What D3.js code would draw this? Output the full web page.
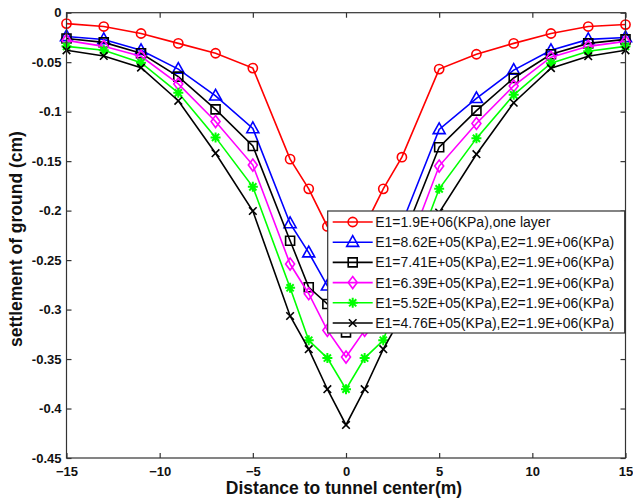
<!DOCTYPE html>
<html><head><meta charset="utf-8">
<script src="https://cdn.jsdelivr.net/npm/d3@7"></script>
<style>
html,body{margin:0;padding:0;background:#fff;}
text{font-family:Arial,"Liberation Sans",sans-serif;}
</style></head>
<body><svg id="c" width="633" height="502"></svg>
<script>
const xValues = [-15,-13,-11,-9,-7,-5,-3,-2,-1,0,1,2,3,5,7,9,11,13,15];
const seriesRed   = [-0.011,-0.014,-0.021,-0.031,-0.041,-0.056,-0.148,-0.178,-0.216,-0.238,-0.216,-0.178,-0.146,-0.057,-0.042,-0.031,-0.021,-0.014,-0.012];
const seriesBlue  = [-0.024,-0.027,-0.038,-0.057,-0.084,-0.117,-0.213,-0.2425,-0.276,-0.300,-0.276,-0.2425,-0.213,-0.118,-0.0865,-0.058,-0.038,-0.027,-0.025];
const seriesSquare= [-0.026,-0.030,-0.041,-0.0646,-0.0977,-0.1347,-0.2304,-0.2775,-0.2944,-0.323,-0.2944,-0.2775,-0.2304,-0.136,-0.099,-0.066,-0.042,-0.031,-0.027];
const seriesPink  = [-0.028,-0.034,-0.044,-0.072,-0.110,-0.154,-0.254,-0.284,-0.321,-0.348,-0.321,-0.284,-0.254,-0.155,-0.112,-0.074,-0.045,-0.034,-0.029];
const seriesGreen = [-0.034,-0.038,-0.0505,-0.081,-0.126,-0.176,-0.278,-0.331,-0.349,-0.3805,-0.349,-0.331,-0.278,-0.178,-0.127,-0.083,-0.051,-0.039,-0.034];
const seriesCross = [-0.038,-0.0437,-0.0555,-0.089,-0.142,-0.2004,-0.3065,-0.340,-0.3805,-0.4166,-0.3805,-0.340,-0.3065,-0.202,-0.143,-0.091,-0.056,-0.044,-0.038];
const legendLabels = [
  "E1=1.9E+06(KPa),one layer",
  "E1=8.62E+05(KPa),E2=1.9E+06(KPa)",
  "E1=7.41E+05(KPa),E2=1.9E+06(KPa)",
  "E1=6.39E+05(KPa),E2=1.9E+06(KPa)",
  "E1=5.52E+05(KPa),E2=1.9E+06(KPa)",
  "E1=4.76E+05(KPa),E2=1.9E+06(KPa)"
];
const xTicks = [-15,-10,-5,0,5,10,15];
const yTicks = [0,-0.05,-0.1,-0.15,-0.2,-0.25,-0.3,-0.35,-0.4,-0.45];
const yTickLabels = ["0","-0.05","-0.1","-0.15","-0.2","-0.25","-0.3","-0.35","-0.4","-0.45"];
const xTitle = "Distance to tunnel center(m)";
const yTitle = "settlement of ground (cm)";

const series = [
  {vals: seriesRed, color:"#ff0000", marker:"circle"},
  {vals: seriesBlue, color:"#0000ff", marker:"triangle"},
  {vals: seriesSquare, color:"#000000", marker:"square"},
  {vals: seriesPink, color:"#ff00ff", marker:"diamond"},
  {vals: seriesGreen, color:"#00ff00", marker:"star"},
  {vals: seriesCross, color:"#000000", marker:"cross"}
];

const L = 66.5, R = 625.5, T = 12.7, B = 458;
const x = d3.scaleLinear().domain([-15,15]).range([L,R]);
const y = d3.scaleLinear().domain([-0.45,0]).range([B,T]);
const svg = d3.select("#c");

function markerPath(type){
  switch(type){
    case "circle": return d3.symbol().type(d3.symbolCircle).size(Math.PI*4.6*4.6)();
    case "triangle": return "M0,-6.5L6,4.2L-6,4.2Z";
    case "square": return "M-4.5,-4.5H4.5V4.5H-4.5Z";
    case "diamond": return "M0,-6L4.5,0L0,6L-4.5,0Z";
    case "star": return "M-5,0H5M0,-5V5M-3.6,-3.6L3.6,3.6M-3.6,3.6L3.6,-3.6";
    case "cross": return "M-3.8,-3.8L3.8,3.8M-3.8,3.8L3.8,-3.8";
  }
}

const plot = svg.append("g");
const line = d3.line().x(d=>x(d[0])).y(d=>y(d[1]));
series.forEach(s=>{
  const pts = xValues.map((xv,i)=>[xv, s.vals[i]]);
  plot.append("path").attr("d", line(pts)).attr("fill","none")
    .attr("stroke", s.color).attr("stroke-width",1.6);
  plot.selectAll(null).data(pts).enter().append("path")
    .attr("transform", d=>`translate(${x(d[0])},${y(d[1])})`)
    .attr("d", markerPath(s.marker))
    .attr("fill", s.marker==="star" ? s.color : "none")
    .attr("stroke", s.color).attr("stroke-width", s.marker==="star"?2:1.6);
});

// frame
svg.append("rect").attr("x",L).attr("y",T).attr("width",R-L).attr("height",B-T)
  .attr("fill","none").attr("stroke","#333").attr("stroke-width",1.2);

// axes with inside ticks
const axB = svg.append("g").attr("transform",`translate(0,${B})`)
  .call(d3.axisBottom(x).tickValues(xTicks).tickSizeInner(-5).tickSizeOuter(0).tickPadding(9));
const axT = svg.append("g").attr("transform",`translate(0,${T})`)
  .call(d3.axisTop(x).tickValues(xTicks).tickSizeInner(-5).tickSizeOuter(0).tickFormat(""));
const axL = svg.append("g").attr("transform",`translate(${L},0)`)
  .call(d3.axisLeft(y).tickValues(yTicks).tickSizeInner(-5).tickSizeOuter(0).tickPadding(5)
    .tickFormat((d,i)=>yTickLabels[i]));
const axR = svg.append("g").attr("transform",`translate(${R},0)`)
  .call(d3.axisRight(y).tickValues(yTicks).tickSizeInner(-5).tickSizeOuter(0).tickFormat(""));
[axB,axT,axL,axR].forEach(a=>{
  a.select(".domain").remove();
  a.selectAll(".tick line").attr("stroke","#333").attr("stroke-width",1.2);
  a.selectAll("text").attr("font-size",13).attr("font-weight","bold").attr("fill","#111")
    .attr("font-family","Arial, 'Liberation Sans', sans-serif");
});

// titles
svg.append("text").attr("x",344).attr("y",494).attr("text-anchor","middle")
  .attr("font-size",17.5).attr("font-weight","bold").attr("fill","#111").text(xTitle);
svg.append("text").attr("transform","translate(22,239) rotate(-90)").attr("text-anchor","middle")
  .attr("font-size",17.5).attr("font-weight","bold").attr("fill","#111").text(yTitle);

// legend
const lg = svg.append("g");
const lx0 = 327.7, ly0 = 211, lw = 297, lh = 122;
lg.append("rect").attr("x",lx0).attr("y",ly0).attr("width",lw).attr("height",lh)
  .attr("fill","#fff").attr("stroke","#333").attr("stroke-width",1.2);
series.forEach((s,i)=>{
  const yy = ly0 + 11 + i*20.2;
  lg.append("line").attr("x1",lx0+5).attr("x2",lx0+45).attr("y1",yy).attr("y2",yy)
    .attr("stroke",s.color).attr("stroke-width",1.6);
  lg.append("path").attr("transform",`translate(${lx0+25},${yy})`).attr("d",markerPath(s.marker))
    .attr("fill", s.marker==="star" ? s.color : "none")
    .attr("stroke",s.color).attr("stroke-width", s.marker==="star"?2:1.6);
  lg.append("text").attr("x",lx0+47.5).attr("y",yy+5).attr("font-size",14).attr("fill","#111")
    .text(legendLabels[i]);
});
</script></body></html>
